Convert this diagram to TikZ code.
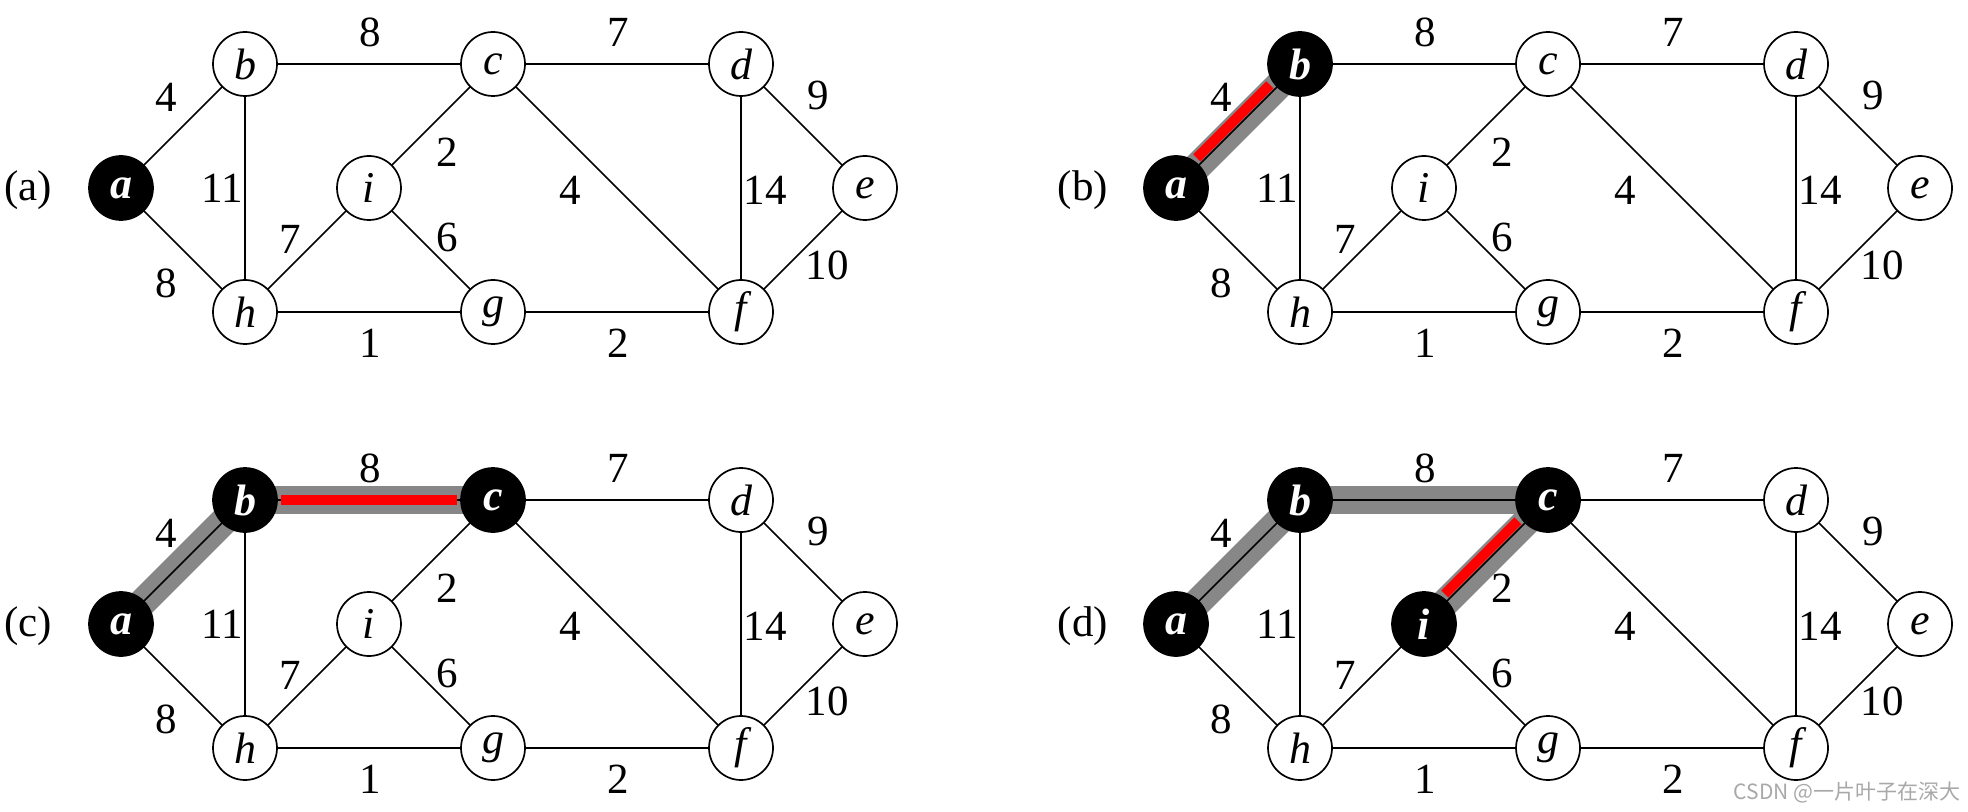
\documentclass[tikz,border=0pt]{standalone}
\usepackage{fontspec}
\setmainfont{Liberation Serif}
\newfontfamily\cjk{Noto Sans CJK SC}
\usepackage{xcolor}
\definecolor{treegray}{HTML}{878787}
\definecolor{markgray}{HTML}{A8A8A8}
\newcommand{\vfont}{\fontsize{22}{22}\selectfont}
\newcommand{\wfont}{\fontsize{21.5}{21.5}\selectfont}
\usepackage{tikz}
\pgfdeclarelayer{bands}
\pgfdeclarelayer{edges}
\pgfdeclarelayer{marks}
\pgfsetlayers{bands,edges,marks,main}

\begin{document}
\begin{tikzpicture}[
  x=0.5pt, y=-0.5pt,
  vtx/.style={circle, draw, line width=0.85pt, fill=white,
              minimum size=32pt, inner sep=0pt, font=\vfont\itshape},
  vtxon/.style={vtx, fill=black, text=white, font=\vfont\bfseries\itshape},
  edge/.style={line width=0.85pt},
  wlabel/.style={inner sep=0pt, font=\wfont},
  tree/.style={line width=14pt, color=treegray},
  newedge/.style={line width=5pt, color=red, shorten <=18pt, shorten >=18pt},
  side/.style={transform canvas={shift={(-2.3pt,2.3pt)}}},
  wmark/.style={inner sep=0pt, font=\cjk\fontsize{10.5}{10.5}\selectfont, text=markgray}
]
  \useasboundingbox (0,0) rectangle (1968,812);

  \foreach \p/\dx/\dy/\n in {a/0/0/1, b/1055/0/2, c/0/436/3, d/1055/436/4} {
    \begin{scope}[shift={(\dx,\dy)}]
      \node[wlabel] (\p-tag) at (28,190) {(\p)};
      \foreach \v/\x/\y/\k in {a/121/188/1, b/245/64/2, c/493/64/3, i/369/188/4,
                               h/245/312/9, g/493/312/9, d/741/64/9, f/741/312/9,
                               e/865/188/9} {
        \ifnum\k>\n \def\st{vtx}\else \def\st{vtxon}\fi
        \node[\st] (\p-\v) at (\x,\y) {\v};
      }
      \begin{pgfonlayer}{edges}
        \foreach \u/\v in {a/b, a/h, b/c, b/h, c/d, c/i, c/f,
                           d/e, d/f, e/f, h/i, h/g, i/g, g/f}
          \draw[edge] (\p-\u.center) -- (\p-\v.center);
      \end{pgfonlayer}
      \foreach \w/\x/\y [count=\k] in {8/370/32, 7/618/32, 4/166/97, 9/818/95,
                                       2/447/152, 11/222/188, 4/570/190, 14/765/190,
                                       7/290/239, 6/447/237, 8/166/283, 10/827/265,
                                       1/370/343, 2/618/343}
        \node[wlabel] (\p-w\k) at (\x,\y) {\w};
    \end{scope}
  }

  \begin{pgfonlayer}{bands}
    \foreach \u/\v in {b-a/b-b, c-a/c-b, c-b/c-c, d-a/d-b, d-b/d-c, d-c/d-i}
      \draw[tree] (\u.center) -- (\v.center);
  \end{pgfonlayer}

  \begin{pgfonlayer}{marks}
    \draw[newedge, side] (b-a.center) -- (b-b.center);
    \draw[newedge] (c-b.center) -- (c-c.center);
    \draw[newedge, side] (d-c.center) -- (d-i.center);
  \end{pgfonlayer}

  \node[wmark] (wm) at (1847,792) {CSDN @一片叶子在深大};
\end{tikzpicture}
\end{document}
